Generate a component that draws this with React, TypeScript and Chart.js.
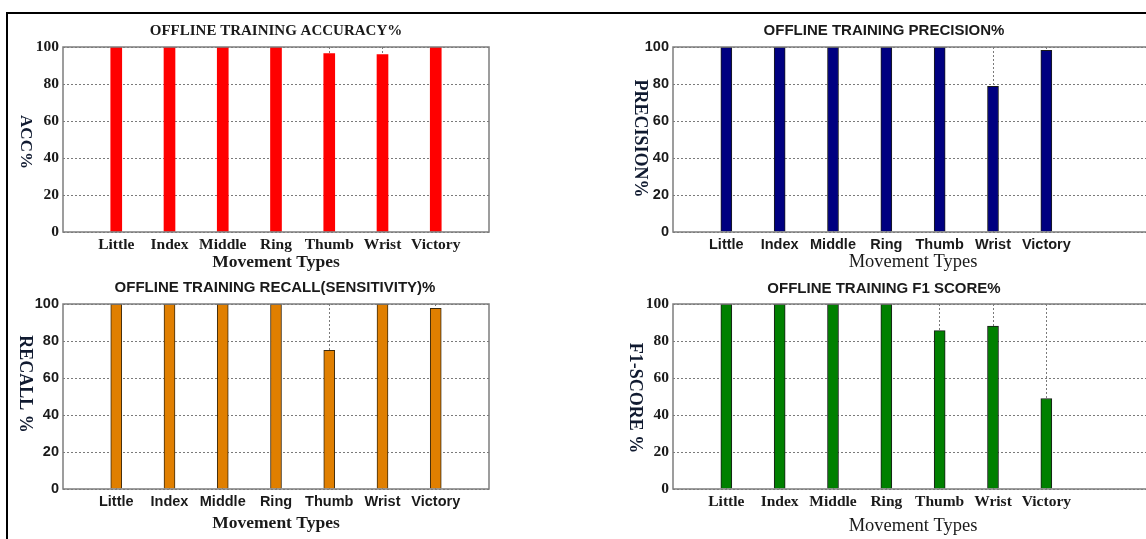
import React, { useEffect, useRef } from 'react';
import { Chart, registerables } from 'chart.js';
Chart.register(...registerables);

const CATEGORIES = ['Little', 'Index', 'Middle', 'Ring', 'Thumb', 'Wrist', 'Victory'];
const Y_TICKS = [0, 20, 40, 60, 80, 100];
const ACCURACY = [100, 100, 100, 100, 96.4, 95.9, 100];
const PRECISION = [100, 100, 100, 100, 100, 78.7, 98.2];
const RECALL = [100, 100, 100, 100, 75.0, 100, 97.7];
const F1_SCORE = [100, 100, 100, 100, 85.6, 88.1, 48.9];
const X_TITLE = 'Movement Types';

const SERIF = "'Liberation Serif', 'Times New Roman', serif";
const SANS = "'Liberation Sans', Arial, sans-serif";

type Font = { family: string; size: number; weight: string };
type Panel = {
  values: number[];
  title: string;
  yLabel: string;
  color: string;
  edge: string;
  edgeWidth: number;
  left: number;
  top: number;
  width: number;
  height: number;
  areaLeft: number;
  areaRight: number;
  areaTop: number;
  areaBottom: number;
  trailing: number;
  titleY: number;
  xTitleY: number;
  yLabelX: number;
  yLabelY: number;
  titleFont: Font;
  tickFont: Font;
  xTitleFont: Font;
  yLabelFont: Font;
};

const PANELS: Panel[] = [
  {
    values: ACCURACY, title: 'OFFLINE TRAINING ACCURACY%', yLabel: 'ACC%',
    color: '#FF0000', edge: '#FF2020', edgeWidth: 0,
    left: 0, top: 0, width: 552, height: 275,
    areaLeft: 63, areaRight: 489, areaTop: 47, areaBottom: 232, trailing: 1,
    titleY: 31.5, xTitleY: 262, yLabelX: 25, yLabelY: 142,
    titleFont: { family: SERIF, size: 15, weight: 'bold' },
    tickFont: { family: SERIF, size: 15.5, weight: 'bold' },
    xTitleFont: { family: SERIF, size: 17.5, weight: 'bold' },
    yLabelFont: { family: SERIF, size: 17, weight: 'bold' },
  },
  {
    values: PRECISION, title: 'OFFLINE TRAINING PRECISION%', yLabel: 'PRECISION%',
    color: '#000080', edge: '#1a1a1a', edgeWidth: 1,
    left: 573, top: 0, width: 622, height: 275,
    areaLeft: 100, areaRight: 580, areaTop: 47, areaBottom: 232, trailing: 2,
    titleY: 31, xTitleY: 262, yLabelX: 66.5, yLabelY: 138.5,
    titleFont: { family: SANS, size: 15, weight: 'bold' },
    tickFont: { family: SANS, size: 14.5, weight: 'bold' },
    xTitleFont: { family: SERIF, size: 18.5, weight: 'normal' },
    yLabelFont: { family: SERIF, size: 18, weight: 'bold' },
  },
  {
    values: RECALL, title: 'OFFLINE TRAINING RECALL(SENSITIVITY)%', yLabel: 'RECALL %',
    color: '#E07F00', edge: '#3a2a10', edgeWidth: 1,
    left: 0, top: 270, width: 550, height: 269,
    areaLeft: 63, areaRight: 489, areaTop: 34, areaBottom: 219, trailing: 1,
    titleY: 18.3, xTitleY: 253.5, yLabelX: 25, yLabelY: 114,
    titleFont: { family: SANS, size: 15, weight: 'bold' },
    tickFont: { family: SANS, size: 14.5, weight: 'bold' },
    xTitleFont: { family: SERIF, size: 17.5, weight: 'bold' },
    yLabelFont: { family: SERIF, size: 18, weight: 'bold' },
  },
  {
    values: F1_SCORE, title: 'OFFLINE TRAINING F1 SCORE%', yLabel: 'F1-SCORE %',
    color: '#008000', edge: '#1a1a1a', edgeWidth: 1,
    left: 573, top: 270, width: 622, height: 269,
    areaLeft: 100, areaRight: 580, areaTop: 34, areaBottom: 219, trailing: 2,
    titleY: 18.5, xTitleY: 256, yLabelX: 61.5, yLabelY: 128,
    titleFont: { family: SANS, size: 15, weight: 'bold' },
    tickFont: { family: SERIF, size: 15.5, weight: 'bold' },
    xTitleFont: { family: SERIF, size: 18.5, weight: 'normal' },
    yLabelFont: { family: SERIF, size: 18, weight: 'bold' },
  },
];

function PanelChart({ p }: { p: Panel }) {
  const ref = useRef<HTMLCanvasElement | null>(null);
  useEffect(() => {
    if (!ref.current) return;
    const blanksAfter = new Array(p.trailing).fill('');
    const labels = ['', ...CATEGORIES, ...blanksAfter];
    const data = [null, ...p.values, ...blanksAfter.map(() => null)];
    const titleLH = p.titleFont.size * 1.2;
    const xTitleLH = p.xTitleFont.size * 1.2;

    const boxPlugin = {
      id: 'boxAndLabel',
      afterDatasetsDraw(chart: any) {
        const { ctx, chartArea } = chart;
        ctx.save();
        ctx.strokeStyle = '#7d7d7d';
        ctx.lineWidth = 1.5;
        ctx.setLineDash([]);
        ctx.strokeRect(chartArea.left, chartArea.top, chartArea.right - chartArea.left, chartArea.bottom - chartArea.top);
        ctx.restore();
      },
      afterDraw(chart: any) {
        const { ctx } = chart;
        ctx.save();
        ctx.translate(p.yLabelX, p.yLabelY);
        ctx.rotate(Math.PI / 2);
        ctx.font = `${p.yLabelFont.weight} ${p.yLabelFont.size}px ${p.yLabelFont.family}`;
        ctx.fillStyle = '#101a30';
        ctx.textAlign = 'center';
        ctx.textBaseline = 'middle';
        ctx.fillText(p.yLabel, 0, 0);
        ctx.restore();
      },
    };

    const chart = new Chart(ref.current, {
      type: 'bar',
      data: {
        labels,
        datasets: [
          {
            data: data as any,
            backgroundColor: p.color,
            borderColor: p.edge,
            borderWidth: p.edgeWidth,
            barThickness: 11,
          },
        ],
      },
      options: {
        animation: false,
        responsive: false,
        maintainAspectRatio: false,
        layout: { padding: 0 },
        plugins: {
          legend: { display: false },
          tooltip: { enabled: false },
          title: {
            display: true,
            text: p.title,
            color: '#1a1a1a',
            font: { family: p.titleFont.family, size: p.titleFont.size, weight: p.titleFont.weight as any, lineHeight: 1.2 },
            padding: { top: p.titleY - titleLH / 2, bottom: p.areaTop - p.titleY - titleLH / 2 },
          },
        },
        scales: {
          x: {
            type: 'category',
            offset: false,
            grid: {
              offset: false,
              drawTicks: false,
              color: (c: any) => (c.index === 0 || c.index > CATEGORIES.length ? 'rgba(0,0,0,0)' : '#7a7a7a'),
              lineWidth: 1,
            },
            border: { display: false, dash: [2, 2] },
            ticks: {
              autoSkip: false,
              maxRotation: 0,
              minRotation: 0,
              padding: 4,
              color: '#1a1a1a',
              font: { family: p.tickFont.family, size: p.tickFont.size, weight: p.tickFont.weight as any },
            },
            title: {
              display: true,
              text: X_TITLE,
              color: '#1a1a1a',
              font: { family: p.xTitleFont.family, size: p.xTitleFont.size, weight: p.xTitleFont.weight as any, lineHeight: 1.2 },
              padding: { top: 0, bottom: p.height - p.xTitleY - xTitleLH / 2 },
            },
            afterFit: (s: any) => {
              s.height = p.height - p.areaBottom;
            },
          },
          y: {
            min: 0,
            max: 100,
            grid: { drawTicks: false, color: '#7a7a7a', lineWidth: 1 },
            border: { display: false, dash: [2, 2] },
            afterBuildTicks: (s: any) => {
              s.ticks = Y_TICKS.map((v) => ({ value: v }));
            },
            ticks: {
              padding: 4,
              color: '#1a1a1a',
              font: { family: p.tickFont.family, size: p.tickFont.size, weight: p.tickFont.weight as any },
            },
            afterFit: (s: any) => {
              s.width = p.areaLeft;
            },
          },
          yRight: {
            position: 'right',
            display: true,
            min: 0,
            max: 100,
            grid: { display: false, drawOnChartArea: false, drawTicks: false },
            border: { display: false },
            ticks: { display: false },
            afterFit: (s: any) => {
              s.width = p.width - p.areaRight;
            },
          },
        },
      },
      plugins: [boxPlugin],
    });
    return () => chart.destroy();
  }, [p]);

  return (
    <canvas
      ref={ref}
      width={p.width}
      height={p.height}
      style={{ position: 'absolute', left: p.left, top: p.top, width: p.width, height: p.height }}
    />
  );
}

export default function App() {
  return (
    <div
      style={{
        position: 'absolute',
        left: 0,
        top: 0,
        width: 1146,
        height: 539,
        overflow: 'hidden',
        background: '#ffffff',
      }}
    >
      {PANELS.map((p, i) => (
        <PanelChart key={i} p={p} />
      ))}
      <div style={{ position: 'absolute', left: 6, top: 12, width: 1140, height: 2, background: '#000' }} />
      <div style={{ position: 'absolute', left: 6, top: 12, width: 2, height: 527, background: '#000' }} />
    </div>
  );
}
